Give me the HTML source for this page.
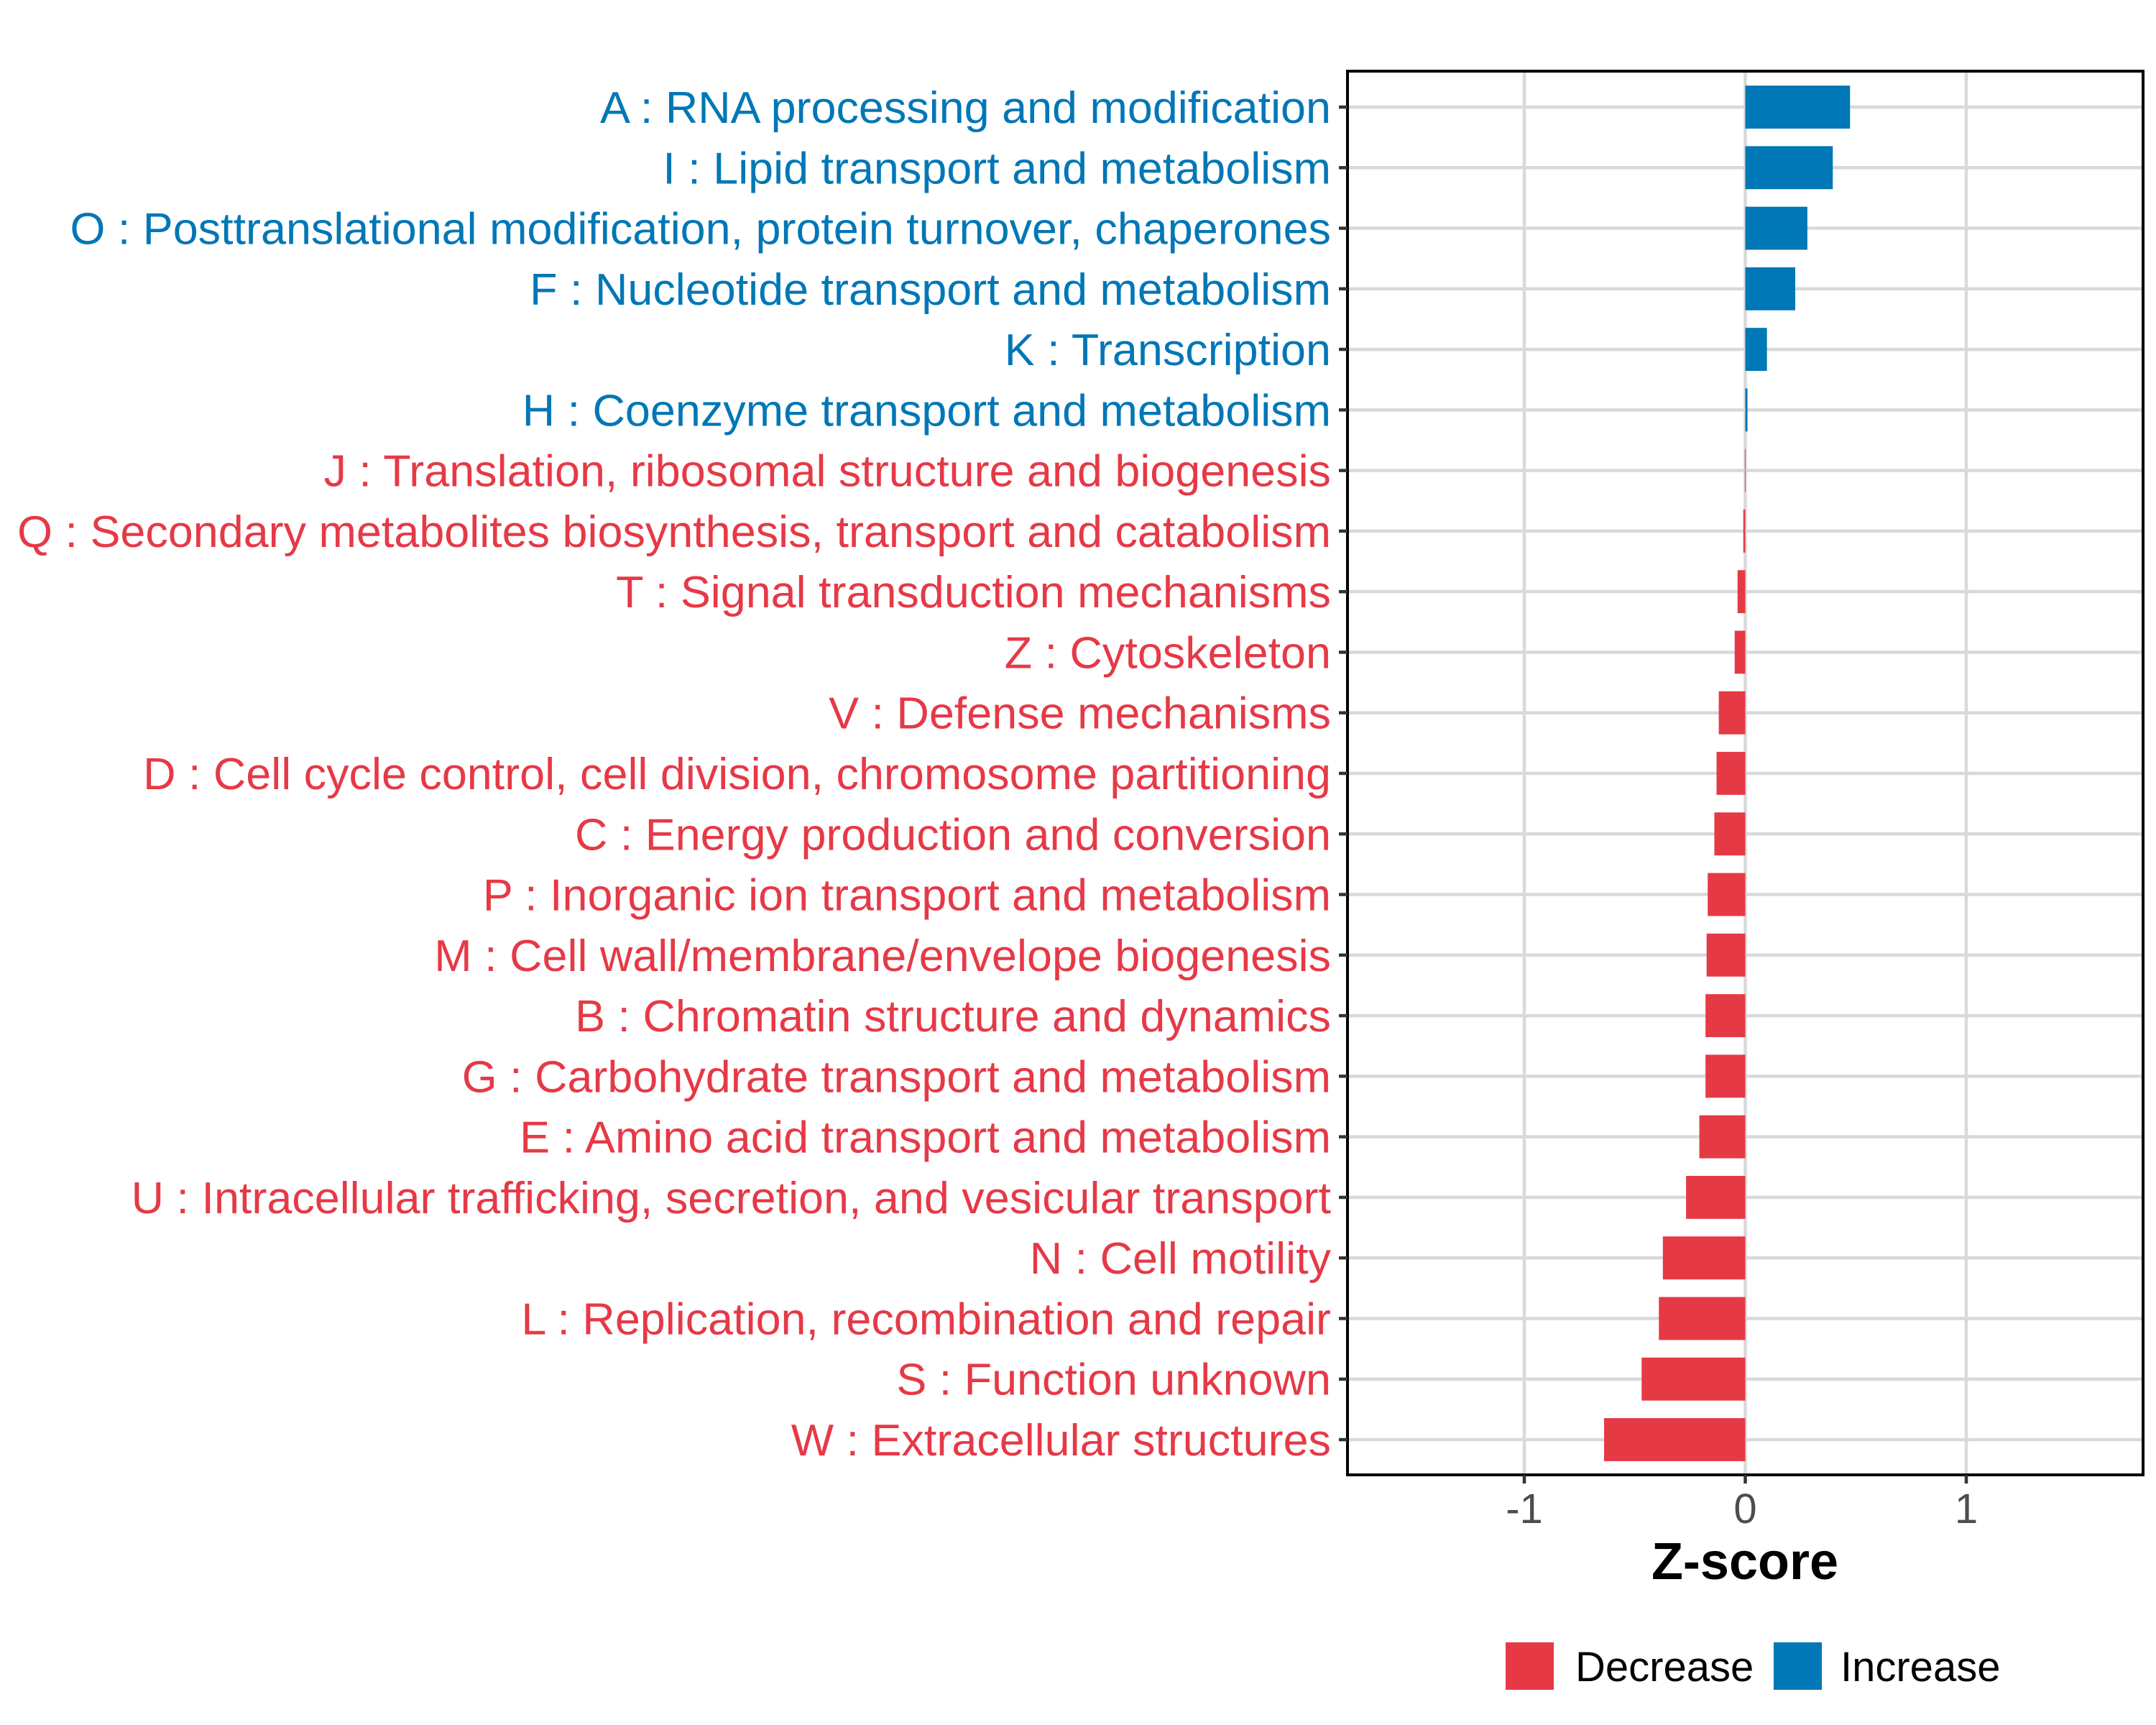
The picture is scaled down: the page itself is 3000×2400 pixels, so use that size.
<!DOCTYPE html>
<html><head><meta charset="utf-8">
<style>html,body{margin:0;padding:0;background:#fff}svg{display:block}</style>
</head><body>
<svg id="chart" width="3000" height="2400" viewBox="0 0 3000 2400" xmlns="http://www.w3.org/2000/svg" font-family="'Liberation Sans', Arial, sans-serif">
<rect x="0" y="0" width="3000" height="2400" fill="#fff"/>
<g id="grid"></g>
<g id="bars"></g>
<rect x="1875" y="99" width="1107" height="1953" fill="none" stroke="#000" stroke-width="4"/>
<g id="yaxis"></g>
<g id="xaxis"></g>
<text x="2428" y="2197" font-size="72" font-weight="bold" text-anchor="middle" fill="#000">Z-score</text>
<g>
  <rect x="2095" y="2285" width="67" height="66" fill="#E63946"/>
  <text x="2192" y="2339" font-size="58" fill="#000">Decrease</text>
  <rect x="2468" y="2285" width="67" height="66" fill="#0077B6"/>
  <text x="2561" y="2339" font-size="58" fill="#000">Increase</text>
</g>
</svg>
<script>
const categories = [
 "A : RNA processing and modification",
 "I : Lipid transport and metabolism",
 "O : Posttranslational modification, protein turnover, chaperones",
 "F : Nucleotide transport and metabolism",
 "K : Transcription",
 "H : Coenzyme transport and metabolism",
 "J : Translation, ribosomal structure and biogenesis",
 "Q : Secondary metabolites biosynthesis, transport and catabolism",
 "T : Signal transduction mechanisms",
 "Z : Cytoskeleton",
 "V : Defense mechanisms",
 "D : Cell cycle control, cell division, chromosome partitioning",
 "C : Energy production and conversion",
 "P : Inorganic ion transport and metabolism",
 "M : Cell wall/membrane/envelope biogenesis",
 "B : Chromatin structure and dynamics",
 "G : Carbohydrate transport and metabolism",
 "E : Amino acid transport and metabolism",
 "U : Intracellular trafficking, secretion, and vesicular transport",
 "N : Cell motility",
 "L : Replication, recombination and repair",
 "S : Function unknown",
 "W : Extracellular structures"
];
const zscores = [0.474,0.396,0.281,0.226,0.098,0.01,-0.002,-0.009,-0.035,-0.048,-0.12,-0.13,-0.14,-0.17,-0.175,-0.18,-0.18,-0.208,-0.268,-0.373,-0.391,-0.469,-0.639];
const xTicks = [-1,0,1];
const xTickLabels = ["-1","0","1"];
const xDomain = [-1.8,1.8];

const NS="http://www.w3.org/2000/svg";
const PL=1875, PR=2982, PT=99, PB=2052;
const x = v => PL + (v - xDomain[0]) / (xDomain[1]-xDomain[0]) * (PR-PL);
const rowTop = 149, rowBot = 2003;
const y = i => rowTop + i * (rowBot-rowTop) / (categories.length-1);
const step = (rowBot-rowTop)/(categories.length-1);
const BLUE="#0077B6", RED="#E63946";
function mk(tag, attrs, parent){const e=document.createElementNS(NS,tag);for(const k in attrs)e.setAttribute(k,attrs[k]);parent.appendChild(e);return e;}
const grid=document.getElementById('grid'), bars=document.getElementById('bars'), yaxis=document.getElementById('yaxis'), xaxis=document.getElementById('xaxis');

xTicks.forEach((t,i)=>{
  const l=mk('line',{x1:x(t),x2:x(t),y1:PT,y2:PB,stroke:"#d9d9d9","stroke-width":4.5},grid);
  
  
  const tk=mk('line',{x1:x(t),x2:x(t),y1:PB,y2:PB+12,stroke:"#333","stroke-width":4.5},xaxis);
  
  
  const tx=mk('text',{x:x(t),y:2119,"font-size":58,"text-anchor":"middle",fill:"#4d4d4d"},xaxis);
  tx.textContent=xTickLabels[i];
  
  
});
categories.forEach((c,i)=>{
  const yy=y(i);
  const g=mk('line',{x1:PL,x2:PR,y1:yy,y2:yy,stroke:"#d9d9d9","stroke-width":4.5},grid);
  
  
  const v=zscores[i], col=v>=0?BLUE:RED;
  const x0=Math.min(x(0),x(v)), w=Math.max(Math.abs(x(v)-x(0)),1);
  const b=mk('rect',{x:x0,y:yy-step*0.355,width:w,height:step*0.71,fill:col},bars);
  
  
  const tk=mk('line',{x1:PL-12,x2:PL,y1:yy,y2:yy,stroke:"#333","stroke-width":4.5},yaxis);
  
  
  const t=mk('text',{x:0,y:0,"font-size":62,"text-anchor":"end",fill:col},yaxis);
  t.textContent=c;
  
  
  t.dataset.yy=yy;
});
const labels=[...yaxis.querySelectorAll('text')];
let maxLen=0;labels.forEach(t=>{maxLen=Math.max(maxLen,t.getComputedTextLength());});
const s=maxLen>0?1828/maxLen:1;
labels.forEach(t=>{t.setAttribute('transform','translate(1852,'+(+t.dataset.yy+22)+') scale('+s+',1)');});
</script>
</body></html>
